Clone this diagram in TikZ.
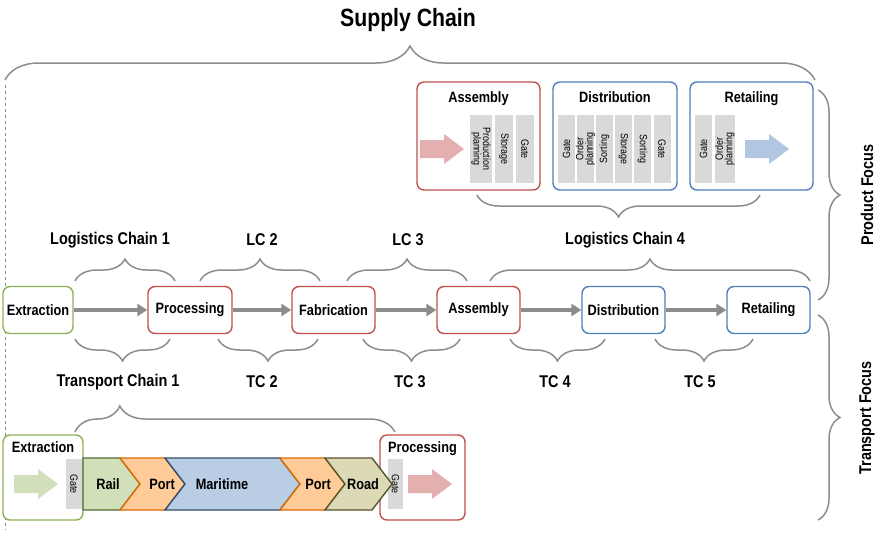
\documentclass[tikz,border=0pt]{standalone}
\usepackage{fontspec}
\setmainfont{Liberation Sans}[FakeStretch=0.85]
\usetikzlibrary{decorations.pathreplacing,arrows.meta}
\definecolor{gr}{HTML}{8DB255}
\definecolor{rd}{HTML}{C0504D}
\definecolor{bl}{HTML}{4F81BD}
\definecolor{strip}{HTML}{D9D9D9}
\definecolor{ln}{HTML}{8C8C8C}
\tikzset{
 x=1pt,y=-1pt,
 every node/.style={font=\bfseries\fontsize{15}{16}\selectfont},
 box/.style={draw,line width=1.4pt,rounded corners=7pt,fill=white,minimum height=47pt,inner sep=0pt},
 gbox/.style={box,draw=gr}, rbox/.style={box,draw=rd}, bbox/.style={box,draw=bl},
 brc/.style={draw=ln,line width=1.5pt,decorate,decoration={brace,amplitude=22pt}},
 conn/.style={draw=ln,line width=3.5pt,-{Triangle[length=10pt,width=12pt]}},
 strp/.style={fill=strip,inner sep=0pt},
 stxt/.style={font=\fontsize{10.5}{9.5}\selectfont,align=center},
 chev/.style={line width=1.4pt},
 lab/.style={font=\bfseries\fontsize{17}{18}\selectfont}
}
\newcommand\blockarrow[3]{\fill[#1] (#2-22,#3-9) -- (#2+2,#3-9) -- (#2+2,#3-15) -- (#2+22,#3) -- (#2+2,#3+15) -- (#2+2,#3+9) -- (#2-22,#3+9) -- cycle;}
\begin{document}
\begin{tikzpicture}
\useasboundingbox (0,0) rectangle (883,544);
\node[font=\bfseries\fontsize{25}{27}\selectfont] (title) at (408,20) {Supply Chain};
\draw[brc,decoration={amplitude=34pt}] (5,80) -- (815,80);
\draw[ln,dashed,line width=0.8pt] (5,85) -- (5,530);
% upper boxes
\node[rbox,minimum width=123pt,minimum height=108pt] (ua) at (478.5,136) {};
\node[anchor=north] (uat) at (478.5,88) {Assembly};
\node[bbox,minimum width=124pt,minimum height=108pt] (ud) at (615,136) {};
\node[anchor=north] (udt) at (615,88) {Distribution};
\node[bbox,minimum width=123pt,minimum height=108pt] (ur) at (751.5,136) {};
\node[anchor=north] (urt) at (751.5,88) {Retailing};
\blockarrow{rd!45}{442}{149}
\blockarrow{bl!45}{767}{149}
\foreach \x/\w/\t/\r [count=\i] in {481/22/{Production\\planning}/-90,504/18/Storage/-90,525/18/Gate/-90,
 566.5/17/Gate/90,585.5/17/{Order\\planning}/90,604.5/17/Sorting/90,623.5/17/Storage/-90,642.5/17/Sorting/-90,662/17/Gate/-90,
 703.5/17/Gate/90,725/20/{Order\\planning}/90}
 {\node[strp,minimum width=\w pt,minimum height=68pt] (s\i) at (\x,149) {};
  \node[stxt,rotate=\r] at (s\i) {\t};}
\draw[brc] (760,195) -- (477,195);
% right braces
\draw[brc] (818,90) -- (818,300);
\node[lab,rotate=90] (pf) at (867,195) {Product Focus};
\draw[brc] (818,315) -- (818,520);
\node[lab,rotate=90] (tf) at (867,418) {Transport Focus};
% main row
\node[gbox,minimum width=70pt] (e) at (38,310) {Extraction};
\node[rbox,minimum width=84pt] (p) at (190,310) {Processing};
\node[rbox,minimum width=83pt] (f) at (333.5,310) {Fabrication};
\node[rbox,minimum width=83pt] (a) at (478.5,310) {Assembly};
\node[bbox,minimum width=83pt] (d) at (623.5,310) {Distribution};
\node[bbox,minimum width=83pt] (r) at (768.5,310) {Retailing};
\foreach \u/\v in {e/p,p/f,f/a,a/d,d/r} \draw[conn] (\u) -- (\v);
\draw[brc] (75,281) -- (175,281);
\draw[brc] (200,281) -- (320,281);
\draw[brc] (347,281) -- (467,281);
\draw[brc] (490,281) -- (810,281);
\node[lab] (l1) at (110,240) {Logistics Chain 1};
\node[lab] (l2) at (262,240) {LC 2};
\node[lab] (l3) at (408,240) {LC 3};
\node[lab] (l4) at (625,240) {Logistics Chain 4};
\draw[brc] (170,339) -- (75,339);
\draw[brc] (318,339) -- (218,339);
\draw[brc] (460,339) -- (363,339);
\draw[brc] (605,339) -- (510,339);
\draw[brc] (753,339) -- (655,339);
\node[lab] (t1) at (118,382) {Transport Chain 1};
\node[lab] (t2) at (262,382) {TC 2};
\node[lab] (t3) at (410,382) {TC 3};
\node[lab] (t4) at (555,382) {TC 4};
\node[lab] (t5) at (700,382) {TC 5};
\draw[brc,decoration={aspect=0.14,amplitude=26pt}] (75,432) -- (395,432);
% bottom row
\node[gbox,minimum width=80pt,minimum height=85pt] (be) at (43,477.5) {};
\node[anchor=north] (bet) at (43,438) {Extraction};
\blockarrow{gr!40}{36}{484}
\node[strp,minimum width=16pt,minimum height=50pt] (bg1) at (74,484) {};
\node[stxt,rotate=-90] at (bg1) {Gate};
\node[rbox,minimum width=85pt,minimum height=85pt] (bp) at (422.5,477.5) {};
\node[anchor=north] (bpt) at (422.5,438) {Processing};
\blockarrow{rd!45}{430}{484}
\node[strp,minimum width=15pt,minimum height=50pt] (bg2) at (395.5,484) {};
\node[stxt,rotate=-90] at (bg2) {Gate};
\filldraw[chev,draw=gr!60!black,fill=gr!40] (83,458) -- (120,458) -- (140,484) -- (120,510) -- (83,510) -- cycle;
\filldraw[chev,draw=orange!85!black,fill=orange!40] (120,458) -- (165,458) -- (185,484) -- (165,510) -- (120,510) -- (140,484) -- cycle;
\filldraw[chev,draw=bl!60!black,fill=bl!40] (165,458) -- (280,458) -- (300,484) -- (280,510) -- (165,510) -- (185,484) -- cycle;
\filldraw[chev,draw=orange!85!black,fill=orange!40] (280,458) -- (325,458) -- (345,484) -- (325,510) -- (280,510) -- (300,484) -- cycle;
\filldraw[chev,draw=olive!50!black,fill=olive!20!white!85!gray] (325,458) -- (372,458) -- (392,484) -- (372,510) -- (325,510) -- (345,484) -- cycle;
\node (c1) at (108,484) {Rail};
\node (c2) at (162,484) {Port};
\node (c3) at (222,484) {Maritime};
\node (c4) at (318,484) {Port};
\node (c5) at (363,484) {Road};
\end{tikzpicture}
\end{document}
